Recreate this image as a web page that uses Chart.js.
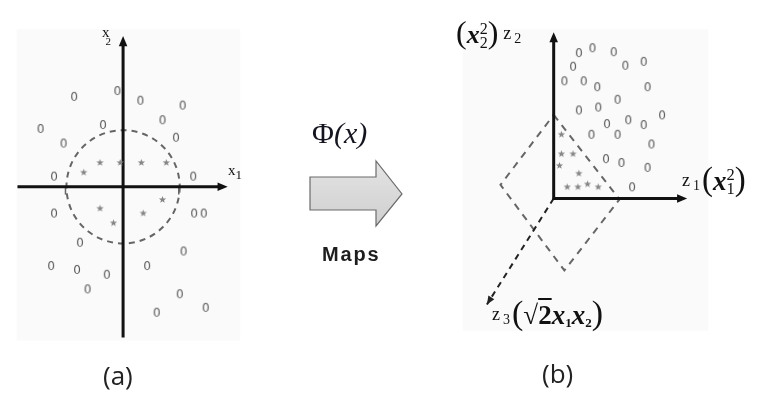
<!DOCTYPE html>
<html>
<head>
<meta charset="utf-8">
<script src="https://cdn.jsdelivr.net/npm/chart.js@4.4.1/dist/chart.umd.min.js"></script>
<style>
  body { margin: 0; background: #fff; }
  #wrap { position: relative; width: 758px; height: 396px; overflow: hidden; }
  canvas { position: absolute; top: 0; }
  .lbl { position: absolute; white-space: nowrap; line-height: 1; color: #111; }
  .serif { font-family: 'Liberation Serif', 'DejaVu Serif', serif; }
  .cap { font-family: 'Open Sans', 'DejaVu Sans', sans-serif; font-size: 26px; color: #222; }
  .ss { display: inline-block; vertical-align: middle; line-height: 0.85; font-size: 0.5em; text-align: left; }
  .ss span { display: block; }
</style>
</head>
<body>
<div id="wrap">
  <canvas id="chartA" width="250" height="360" style="left:0"></canvas>
  <canvas id="chartB" width="308" height="360" style="left:450px"></canvas>

  <svg width="758" height="396" style="position:absolute;left:0;top:0">
    <defs>
      <linearGradient id="g" x1="0" y1="0" x2="0" y2="1">
        <stop offset="0" stop-color="#e4e4e4"/>
        <stop offset="1" stop-color="#cfcfcf"/>
      </linearGradient>
    </defs>
    <polygon points="310,177 376,177 376,161 402,194 376,226 376,210 310,210" fill="url(#g)" stroke="#6b6b6b" stroke-width="1.2"/>
  </svg>

  <!-- mittlerer Teil -->
  <div class="lbl serif" style="left:312px;top:118px;font-size:30px;color:#151520">&Phi;<i>(x)</i></div>
  <div class="lbl" style="left:322px;top:244px;font-family:'Liberation Sans',Arial,sans-serif;font-weight:bold;font-size:20px;letter-spacing:1.8px;color:#1e1e1e">Maps</div>

  <!-- Achsen-Beschriftungen (a) -->
  <div class="lbl serif" style="left:228px;top:163px;font-size:15px">x<span style="font-size:13px;position:relative;top:4px">1</span></div>
  <div class="lbl serif" style="left:102px;top:25px;font-size:15px">x<span style="font-size:11px;position:relative;top:8px;left:-4px">2</span></div>

  <!-- Achsen-Beschriftungen (b) -->
  <div class="lbl serif" style="left:456px;top:16px;font-size:32px">(<b><i style="font-size:26px">x</i></b><span class="ss"><span>2</span><span>2</span></span>)<span style="font-size:18px;position:relative;top:-4px;margin-left:5px">z<span style="font-size:14px;position:relative;top:4px;margin-left:3px">2</span></span></div>
  <div class="lbl serif" style="left:682px;top:163px;font-size:33px"><span style="font-size:18px;position:relative;top:-4px;margin-right:2px">z<span style="font-size:14px;position:relative;top:4px;margin-left:3px">1</span></span>(<b><i style="font-size:27px">x</i></b><span class="ss"><span>2</span><span>1</span></span>)</div>
  <div class="lbl serif" style="left:492px;top:296px;font-size:34px"><span style="font-size:18px;position:relative;top:-4px;margin-right:2px">z<span style="font-size:14px;position:relative;top:4px;margin-left:3px">3</span></span>(<b style="font-size:27px">&radic;<span style="text-decoration:overline">2</span><i>x</i><span style="font-size:13px;position:relative;top:3px">1</span><i>x</i><span style="font-size:13px;position:relative;top:3px">2</span></b>)</div>

  <div class="lbl cap" style="left:103px;top:362px">(a)</div>
  <div class="lbl cap" style="left:542px;top:360px">(b)</div>
</div>

<script>
// --- Daten (a): Originalraum (x1, x2) ---
const kreisA_x = [-0.6, -5.1, 1.8, 6.2, -8.6, 4.1, -2.1, -6.2, 5.5, -7.2, 7.3, -7.2, 7.4, 8.4, -4.5, 6.3, -7.5, -4.8, -1.7, 2.5, -3.7, 5.9, 3.5, 8.6];
const kreisA_y = [9.8, 9.2, 8.8, 8.3, 5.9, 6.8, 6.3, 4.4, 5.0, 1.0, 1.0, -2.8, -2.8, -2.8, -5.8, -6.7, -8.2, -8.6, -9.1, -8.2, -10.6, -11.1, -13.0, -12.5];
const sternA_x = [-4.1, -2.4, -0.3, 1.9, 4.5, -2.4, -1.0, 2.1, 4.1];
const sternA_y = [1.5, 2.5, 2.5, 2.5, 2.5, -2.2, -3.7, -2.7, -1.3];
const radiusA = 5.9;       // gestrichelter Kreis
const achseA = 11;         // Länge der Achsen (Einheiten)
const tickA = [-6.0, 5.8];

// --- Daten (b): Merkmalsraum (z1, z2) ---
const kreisB_x = [2.6, 4.0, 6.2, 2.0, 7.4, 9.3, 1.1, 3.1, 4.5, 9.7, 6.6, 2.6, 4.6, 11.2, 5.5, 7.7, 9.3, 3.9, 6.6, 10.1, 5.4, 7.0, 9.7, 8.1];
const kreisB_y = [14.9, 15.4, 15.0, 13.5, 13.6, 14.0, 12.0, 12.0, 11.4, 11.4, 10.1, 9.0, 9.3, 8.5, 7.6, 8.0, 7.5, 6.5, 6.5, 5.5, 4.0, 3.6, 3.1, 1.1];
const sternB_x = [0.8, 0.8, 2.0, 0.6, 2.6, 1.4, 2.5, 3.5, 4.6];
const sternB_y = [6.6, 4.6, 4.6, 3.4, 2.6, 1.2, 1.2, 1.5, 1.2];
const ebeneB_x = [0, 6.8, 1.1, -5.5];   // gestrichelte Trennebene (Ecken)
const ebeneB_y = [8.6, -0.1, -7.4, 1.4];
const z3Ende = [-6.9, -10.9];

const zip = (xs, ys) => xs.map((x, i) => ({ x: x, y: ys[i] }));

// Marker: "0" und kleiner Stern als Canvas
function nullMarker() {
  const c = document.createElement('canvas');
  c.width = 10; c.height = 13;
  const g = c.getContext('2d');
  g.fillStyle = '#5a5a5a';
  g.font = '12px "DejaVu Sans", sans-serif';
  g.textAlign = 'center';
  g.textBaseline = 'middle';
  g.fillText('0', 5, 7);
  return c;
}
function sternMarker() {
  const c = document.createElement('canvas');
  c.width = 9; c.height = 9;
  const g = c.getContext('2d');
  g.fillStyle = '#858585';
  g.beginPath();
  for (let i = 0; i < 10; i++) {
    const r = i % 2 ? 1.6 : 3.8;
    const a = -Math.PI / 2 + i * Math.PI / 5;
    g.lineTo(4.5 + r * Math.cos(a), 4.7 + r * Math.sin(a));
  }
  g.closePath();
  g.fill();
  return c;
}
const NULL = nullMarker();
const STERN = sternMarker();

function pfeil(ctx, x0, y0, x1, y1, size) {
  const a = Math.atan2(y1 - y0, x1 - x0);
  ctx.save();
  ctx.setLineDash([]);
  ctx.beginPath();
  ctx.moveTo(x1, y1);
  ctx.lineTo(x1 - size * Math.cos(a - 0.4), y1 - size * Math.sin(a - 0.4));
  ctx.lineTo(x1 - size * Math.cos(a + 0.4), y1 - size * Math.sin(a + 0.4));
  ctx.closePath();
  ctx.fill();
  ctx.restore();
}

const hidden = { display: false };

function baseOptions(xmin, xmax, ymin, ymax) {
  return {
    responsive: false,
    animation: false,
    devicePixelRatio: 1,
    layout: { padding: 0 },
    plugins: { legend: { display: false }, tooltip: { enabled: false } },
    events: [],
    scales: {
      x: { type: 'linear', min: xmin, max: xmax, ...hidden },
      y: { type: 'linear', min: ymin, max: ymax, ...hidden }
    }
  };
}

// (a)
const deko_a = {
  id: 'dekoA',
  beforeDatasetsDraw(chart) {
    const ctx = chart.ctx, sx = chart.scales.x, sy = chart.scales.y;
    const X = v => sx.getPixelForValue(v), Y = v => sy.getPixelForValue(v);
    ctx.save();
    ctx.fillStyle = '#fafafa';
    ctx.fillRect(X(-11.1), Y(16.2), X(12.2) - X(-11.1), Y(-15.8) - Y(16.2));

    // gestrichelter Kreis
    ctx.strokeStyle = '#666';
    ctx.lineWidth = 2;
    ctx.setLineDash([6, 5]);
    ctx.beginPath();
    ctx.arc(X(0), Y(0), X(radiusA) - X(0), 0, Math.PI * 2);
    ctx.stroke();
    ctx.setLineDash([]);

    // Ticks
    ctx.lineWidth = 1.5;
    tickA.forEach(t => {
      ctx.beginPath();
      ctx.moveTo(X(t), Y(0));
      ctx.lineTo(X(t), Y(-0.8));
      ctx.stroke();
    });

    // Achsen
    ctx.strokeStyle = '#111';
    ctx.fillStyle = '#111';
    ctx.lineWidth = 3;
    ctx.beginPath();
    ctx.moveTo(X(-achseA), Y(0));
    ctx.lineTo(X(achseA - 0.6), Y(0));
    ctx.moveTo(X(0), Y(-15.5));
    ctx.lineTo(X(0), Y(15.5 - 0.6));
    ctx.stroke();
    pfeil(ctx, X(0), Y(0), X(achseA - 0.1), Y(0), 11);
    pfeil(ctx, X(0), Y(0), X(0), Y(15.5), 11);
    ctx.restore();
  }
};

new Chart(document.getElementById('chartA'), {
  type: 'scatter',
  data: {
    datasets: [
      { data: zip(kreisA_x, kreisA_y), pointStyle: NULL, clip: false },
      { data: zip(sternA_x, sternA_y), pointStyle: STERN, clip: false }
    ]
  },
  options: baseOptions(-12.3, 12.7, -17.3, 18.7),
  plugins: [deko_a]
});

// (b)
const deko_b = {
  id: 'dekoB',
  beforeDatasetsDraw(chart) {
    const ctx = chart.ctx, sx = chart.scales.x, sy = chart.scales.y;
    const X = v => sx.getPixelForValue(v), Y = v => sy.getPixelForValue(v);
    ctx.save();
    ctx.fillStyle = '#fafafa';
    ctx.fillRect(X(-9.4), Y(17.4), X(16) - X(-9.4), Y(-13.6) - Y(17.4));

    // Trennebene
    ctx.strokeStyle = '#666';
    ctx.lineWidth = 2;
    ctx.setLineDash([7, 6]);
    ctx.beginPath();
    ebeneB_x.forEach((x, i) => ctx.lineTo(X(x), Y(ebeneB_y[i])));
    ctx.closePath();
    ctx.stroke();

    // z3 gestrichelt
    ctx.strokeStyle = '#222';
    ctx.fillStyle = '#222';
    ctx.setLineDash([6, 5]);
    ctx.beginPath();
    ctx.moveTo(X(0), Y(0));
    ctx.lineTo(X(z3Ende[0]), Y(z3Ende[1]));
    ctx.stroke();
    pfeil(ctx, X(0), Y(0), X(z3Ende[0]), Y(z3Ende[1]), 9);
    ctx.setLineDash([]);

    // z1, z2
    ctx.strokeStyle = '#111';
    ctx.fillStyle = '#111';
    ctx.lineWidth = 3;
    ctx.beginPath();
    ctx.moveTo(X(0), Y(17.1 - 0.6));
    ctx.lineTo(X(0), Y(0));
    ctx.lineTo(X(13.8 - 0.6), Y(0));
    ctx.stroke();
    pfeil(ctx, X(0), Y(0), X(0), Y(17.1), 11);
    pfeil(ctx, X(0), Y(0), X(13.8), Y(0), 11);
    ctx.restore();
  }
};

new Chart(document.getElementById('chartB'), {
  type: 'scatter',
  data: {
    datasets: [
      { data: zip(kreisB_x, kreisB_y), pointStyle: NULL, clip: false },
      { data: zip(sternB_x, sternB_y), pointStyle: STERN, clip: false }
    ]
  },
  options: baseOptions(-10.2, 20.6, -16.1, 19.9),
  plugins: [deko_b]
});
</script>
</body>
</html>
